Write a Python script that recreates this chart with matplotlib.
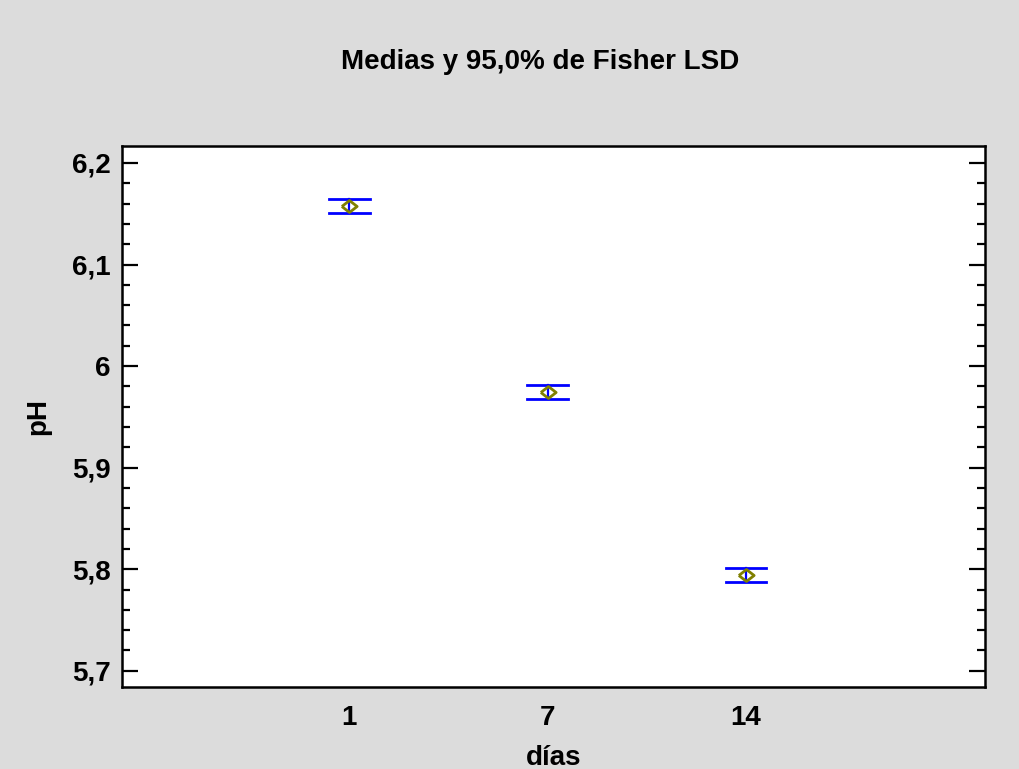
import matplotlib
matplotlib.use("Agg")
import matplotlib.pyplot as plt
from matplotlib.ticker import MultipleLocator, FixedLocator

categories = ["1", "7", "14"]
means = [6.1576, 5.9744, 5.7945]
lower = [6.1507, 5.9675, 5.7876]
upper = [6.1645, 5.9813, 5.8014]
yticks = [5.7, 5.8, 5.9, 6.0, 6.1, 6.2]
yticklabels = ['5,7', '5,8', '5,9', '6', '6,1', '6,2']

plt.rcParams['font.family'] = ['Liberation Sans', 'DejaVu Sans']
plt.rcParams['font.weight'] = 'bold'

fig = plt.figure(figsize=(10.19, 7.69), dpi=100)
fig.patch.set_facecolor('#dcdcdc')
ax = fig.add_axes([122/1019, 1-687/769, (985-122)/1019, (687-146)/769])
ax.set_facecolor('white')

x = list(range(len(categories)))
cap = 0.103
for xi, m, lo, hi in zip(x, means, lower, upper):
    ax.plot([xi, xi], [lo, hi], color='#0000ff', lw=1.6, zorder=2)
    ax.plot([xi - cap, xi + cap], [lo, lo], color='#0000ff', lw=2, zorder=2)
    ax.plot([xi - cap, xi + cap], [hi, hi], color='#0000ff', lw=2, zorder=2)
diamond = [(-1, 0), (0, 0.78), (1, 0), (0, -0.78), (-1, 0)]
ax.plot(x, means, linestyle='none', marker=diamond, markersize=11, markerfacecolor='none',
        markeredgecolor='#808000', markeredgewidth=2.0, zorder=3)

ax.set_xlim(-1.144, 3.204)
ax.set_ylim(5.684, 6.2167)
ax.set_xticks(x)
ax.set_xticklabels(categories)
ax.yaxis.set_major_locator(FixedLocator(yticks))
ax.set_yticklabels(yticklabels)
ax.yaxis.set_minor_locator(MultipleLocator(0.02))
ax.tick_params(axis='y', which='both', direction='in', left=True, right=True, labelsize=20, pad=8)
ax.tick_params(axis='y', which='major', length=11.5, width=1.6)
ax.tick_params(axis='y', which='minor', length=6, width=1.6)
ax.tick_params(axis='x', which='both', length=0, labelsize=20, pad=13)
for s in ax.spines.values():
    s.set_linewidth(1.8)

ax.set_xlabel('días', fontsize=20, fontweight='bold', labelpad=10)
ax.set_ylabel('pH', fontsize=20, fontweight='bold', labelpad=15)
fig.text(540/1019, 1-69/769, 'Medias y 95,0% de Fisher LSD', ha='center', va='baseline',
         fontsize=20, fontweight='bold')

fig.savefig('out.png', dpi=100, facecolor=fig.get_facecolor())
